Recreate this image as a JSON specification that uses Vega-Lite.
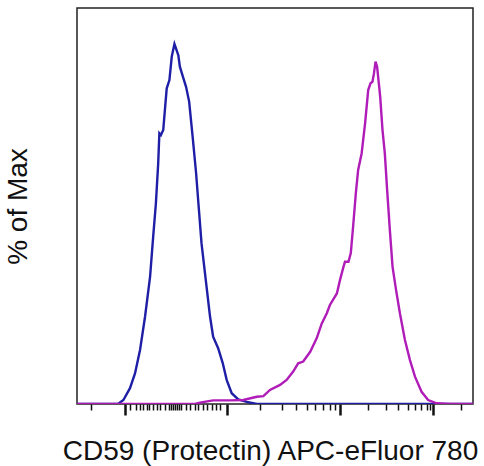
{
  "$schema": "https://vega.github.io/schema/vega-lite/v6.json",
  "width": 396,
  "height": 396,
  "autosize": {"type": "none"},
  "padding": {"left": 77, "top": 8, "right": 11, "bottom": 62},
  "background": "white",
  "config": {"view": {"stroke": "#222222", "strokeWidth": 1.5}},
  "datasets": {
    "hist": [
      {"series": "Isotype", "ch": 0, "pct": 0},
      {"series": "Isotype", "ch": 106, "pct": 0},
      {"series": "Isotype", "ch": 120, "pct": 1.1},
      {"series": "Isotype", "ch": 137, "pct": 4.4},
      {"series": "Isotype", "ch": 150, "pct": 8.5},
      {"series": "Isotype", "ch": 163, "pct": 15.0},
      {"series": "Isotype", "ch": 176, "pct": 24.3},
      {"series": "Isotype", "ch": 189, "pct": 35.4},
      {"series": "Isotype", "ch": 197, "pct": 46.5},
      {"series": "Isotype", "ch": 204, "pct": 55.7},
      {"series": "Isotype", "ch": 210, "pct": 66.9},
      {"series": "Isotype", "ch": 213, "pct": 75.2},
      {"series": "Isotype", "ch": 217, "pct": 74.7},
      {"series": "Isotype", "ch": 223, "pct": 76.1},
      {"series": "Isotype", "ch": 228, "pct": 82.6},
      {"series": "Isotype", "ch": 232, "pct": 87.7},
      {"series": "Isotype", "ch": 239, "pct": 90.0},
      {"series": "Isotype", "ch": 245, "pct": 96.5},
      {"series": "Isotype", "ch": 252, "pct": 100},
      {"series": "Isotype", "ch": 262, "pct": 96.9},
      {"series": "Isotype", "ch": 266, "pct": 93.7},
      {"series": "Isotype", "ch": 275, "pct": 90.5},
      {"series": "Isotype", "ch": 282, "pct": 88.1},
      {"series": "Isotype", "ch": 290, "pct": 84.0},
      {"series": "Isotype", "ch": 299, "pct": 74.3},
      {"series": "Isotype", "ch": 308, "pct": 64.1},
      {"series": "Isotype", "ch": 314, "pct": 55.7},
      {"series": "Isotype", "ch": 322, "pct": 44.6},
      {"series": "Isotype", "ch": 334, "pct": 33.5},
      {"series": "Isotype", "ch": 344, "pct": 24.3},
      {"series": "Isotype", "ch": 352, "pct": 18.7},
      {"series": "Isotype", "ch": 365, "pct": 15.5},
      {"series": "Isotype", "ch": 377, "pct": 11.3},
      {"series": "Isotype", "ch": 387, "pct": 6.7},
      {"series": "Isotype", "ch": 400, "pct": 3.0},
      {"series": "Isotype", "ch": 417, "pct": 1.3},
      {"series": "Isotype", "ch": 439, "pct": 0.6},
      {"series": "Isotype", "ch": 465, "pct": 0},
      {"series": "Isotype", "ch": 1024, "pct": 0},
      {"series": "CD59", "ch": 0, "pct": 0},
      {"series": "CD59", "ch": 305, "pct": 0},
      {"series": "CD59", "ch": 318, "pct": 0.4},
      {"series": "CD59", "ch": 352, "pct": 1.0},
      {"series": "CD59", "ch": 396, "pct": 1.0},
      {"series": "CD59", "ch": 430, "pct": 1.1},
      {"series": "CD59", "ch": 465, "pct": 2.0},
      {"series": "CD59", "ch": 482, "pct": 2.2},
      {"series": "CD59", "ch": 499, "pct": 3.9},
      {"series": "CD59", "ch": 525, "pct": 5.3},
      {"series": "CD59", "ch": 542, "pct": 6.7},
      {"series": "CD59", "ch": 559, "pct": 9.0},
      {"series": "CD59", "ch": 572, "pct": 11.3},
      {"series": "CD59", "ch": 585, "pct": 11.8},
      {"series": "CD59", "ch": 603, "pct": 14.5},
      {"series": "CD59", "ch": 620, "pct": 18.3},
      {"series": "CD59", "ch": 633, "pct": 22.4},
      {"series": "CD59", "ch": 646, "pct": 25.2},
      {"series": "CD59", "ch": 654, "pct": 27.5},
      {"series": "CD59", "ch": 672, "pct": 30.7},
      {"series": "CD59", "ch": 680, "pct": 34.4},
      {"series": "CD59", "ch": 689, "pct": 38.1},
      {"series": "CD59", "ch": 693, "pct": 39.5},
      {"series": "CD59", "ch": 702, "pct": 39.5},
      {"series": "CD59", "ch": 708, "pct": 41.9},
      {"series": "CD59", "ch": 714, "pct": 49.3},
      {"series": "CD59", "ch": 721, "pct": 58.5},
      {"series": "CD59", "ch": 727, "pct": 65.0},
      {"series": "CD59", "ch": 736, "pct": 69.6},
      {"series": "CD59", "ch": 745, "pct": 78.0},
      {"series": "CD59", "ch": 753, "pct": 87.2},
      {"series": "CD59", "ch": 759, "pct": 89.1},
      {"series": "CD59", "ch": 764, "pct": 89.5},
      {"series": "CD59", "ch": 768, "pct": 91.9},
      {"series": "CD59", "ch": 772, "pct": 95.1},
      {"series": "CD59", "ch": 776, "pct": 93.7},
      {"series": "CD59", "ch": 784, "pct": 85.4},
      {"series": "CD59", "ch": 790, "pct": 76.1},
      {"series": "CD59", "ch": 796, "pct": 69.6},
      {"series": "CD59", "ch": 802, "pct": 59.4},
      {"series": "CD59", "ch": 809, "pct": 48.3},
      {"series": "CD59", "ch": 816, "pct": 38.1},
      {"series": "CD59", "ch": 825, "pct": 31.7},
      {"series": "CD59", "ch": 835, "pct": 25.2},
      {"series": "CD59", "ch": 848, "pct": 17.8},
      {"series": "CD59", "ch": 861, "pct": 12.2},
      {"series": "CD59", "ch": 874, "pct": 7.6},
      {"series": "CD59", "ch": 891, "pct": 3.4},
      {"series": "CD59", "ch": 908, "pct": 1.1},
      {"series": "CD59", "ch": 930, "pct": 0.2},
      {"series": "CD59", "ch": 965, "pct": 0},
      {"series": "CD59", "ch": 1024, "pct": 0}
    ]
  },
  "data": {"name": "hist"},
  "encoding": {
    "x": {
      "field": "ch",
      "type": "quantitative",
      "scale": {"domain": [0, 1024], "nice": false, "zero": false},
      "axis": {
        "title": "CD59 (Protectin) APC-eFluor 780",
        "titleFont": "Liberation Sans",
        "titleFontSize": 28,
        "titleFontWeight": "normal",
        "titleColor": "#111111",
        "titlePadding": 21,
        "titleX": 193,
        "titleAlign": "center",
        "titleAnchor": "middle",
        "domain": false,
        "grid": false,
        "labels": false,
        "values": [36, 124, 137, 153, 163, 171, 181, 186, 197, 207, 215, 228, 238, 243, 248, 253, 259, 264, 269, 282, 292, 305, 313, 326, 336, 349, 359, 370, 388, 473, 530, 566, 595, 615, 636, 654, 667, 680, 753, 799, 830, 856, 874, 890, 905, 913, 921, 993],
        "tickColor": "#111111",
        "tickSize": {"condition": {"test": "indexof([124, 388, 680, 921], datum.value) >= 0", "value": 11}, "value": 6},
        "tickWidth": {"condition": {"test": "indexof([124, 388, 680, 921], datum.value) >= 0", "value": 2.5}, "value": 1.5}
      }
    },
    "y": {
      "field": "pct",
      "type": "quantitative",
      "scale": {"domain": [0, 110], "nice": false},
      "axis": {
        "title": "% of Max",
        "titleFont": "Liberation Sans",
        "titleFontSize": 28,
        "titleFontWeight": "normal",
        "titleColor": "#111111",
        "titlePadding": 45,
        "domain": false,
        "grid": false,
        "labels": false,
        "ticks": false
      }
    }
  },
  "layer": [
    {
      "transform": [{"filter": "datum.series == 'Isotype'"}],
      "mark": {"type": "line", "color": "#1E1EA6", "strokeWidth": 2.4, "clip": true}
    },
    {
      "transform": [{"filter": "datum.series == 'CD59'"}],
      "mark": {"type": "line", "color": "#B01CB8", "strokeWidth": 2.4, "clip": true}
    }
  ]
}
